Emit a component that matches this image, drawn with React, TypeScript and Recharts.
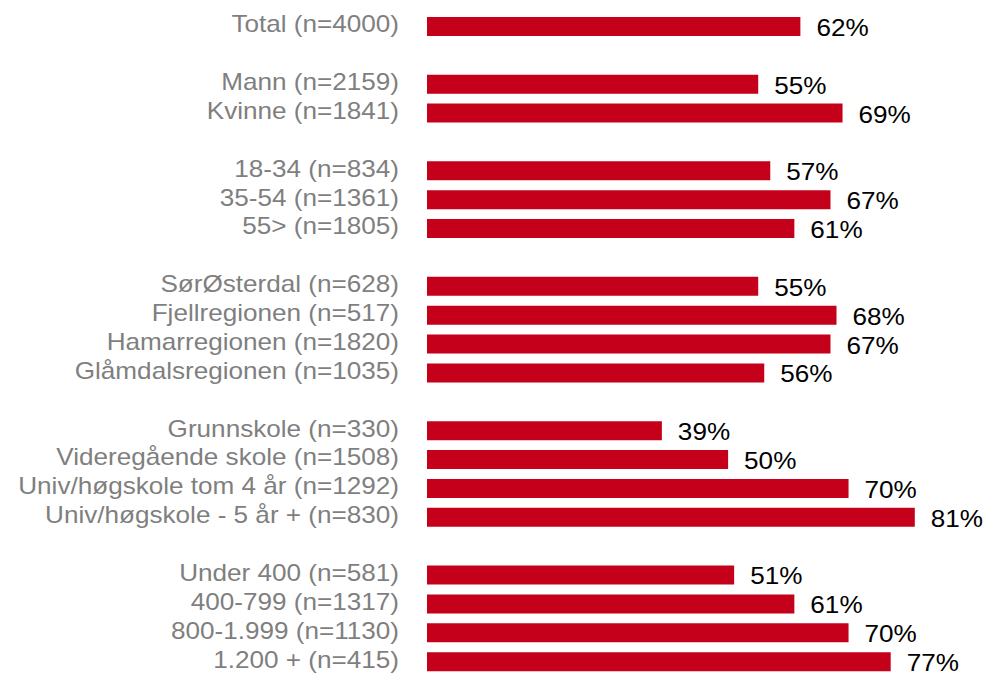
import { BarChart, Bar, XAxis, YAxis, LabelList } from "recharts";

// groups are separated by an empty row (label "" and value null)
const categories = [
  "Total (n=4000)",
  "",
  "Mann (n=2159)",
  "Kvinne (n=1841)",
  "",
  "18-34 (n=834)",
  "35-54 (n=1361)",
  "55> (n=1805)",
  "",
  "SørØsterdal (n=628)",
  "Fjellregionen (n=517)",
  "Hamarregionen (n=1820)",
  "Glåmdalsregionen (n=1035)",
  "",
  "Grunnskole (n=330)",
  "Videregående skole (n=1508)",
  "Univ/høgskole tom 4 år (n=1292)",
  "Univ/høgskole - 5 år + (n=830)",
  "",
  "Under 400 (n=581)",
  "400-799 (n=1317)",
  "800-1.999 (n=1130)",
  "1.200 + (n=415)",
];

const shares: (number | null)[] = [
  62,
  null,
  55, 69,
  null,
  57, 67, 61,
  null,
  55, 68, 67, 56,
  null,
  39, 50, 70, 81,
  null,
  51, 61, 70, 77,
];

const data = categories.map((name, i) => ({ name, value: shares[i] }));

const FONT = "'Liberation Sans', Arial, sans-serif";
const STRETCH = 1.135;

const CategoryTick = ({ x, y, payload }: any) => (
  <text
    transform={`translate(${x},${y - 2}) scale(${STRETCH},1)`}
    textAnchor="end"
    dominantBaseline="central"
    fill="#7f7f7f"
    fontSize={23}
    fontFamily={FONT}
  >
    {payload.value}
  </text>
);

const ValueLabel = (props: any) => {
  const { x, y, width, height, value } = props;
  if (value == null) return null;
  return (
    <text
      transform={`translate(${x + width + 16},${y + height / 2 + 1.5}) scale(${STRETCH},1)`}
      textAnchor="start"
      dominantBaseline="central"
      fill="#000000"
      fontSize={23}
      fontFamily={FONT}
    >
      {`${value}%`}
    </text>
  );
};

export default function App() {
  return (
    <div style={{ width: 986, height: 676 }}>
      <style>{`body{margin:0;overflow:hidden;}`}</style>
      <BarChart
        width={986}
        height={676}
        data={data}
        layout="vertical"
        margin={{ top: 12, right: 17, bottom: 0, left: 0 }}
        barCategoryGap={0}
      >
        <XAxis type="number" domain={[0, 90]} hide />
        <YAxis
          type="category"
          dataKey="name"
          width={427}
          axisLine={false}
          tickLine={false}
          tickSize={0}
          tickMargin={28}
          interval={0}
          tick={<CategoryTick />}
        />
        <Bar dataKey="value" fill="#c5001a" barSize={19} isAnimationActive={false}>
          <LabelList dataKey="value" content={<ValueLabel />} />
        </Bar>
      </BarChart>
    </div>
  );
}
